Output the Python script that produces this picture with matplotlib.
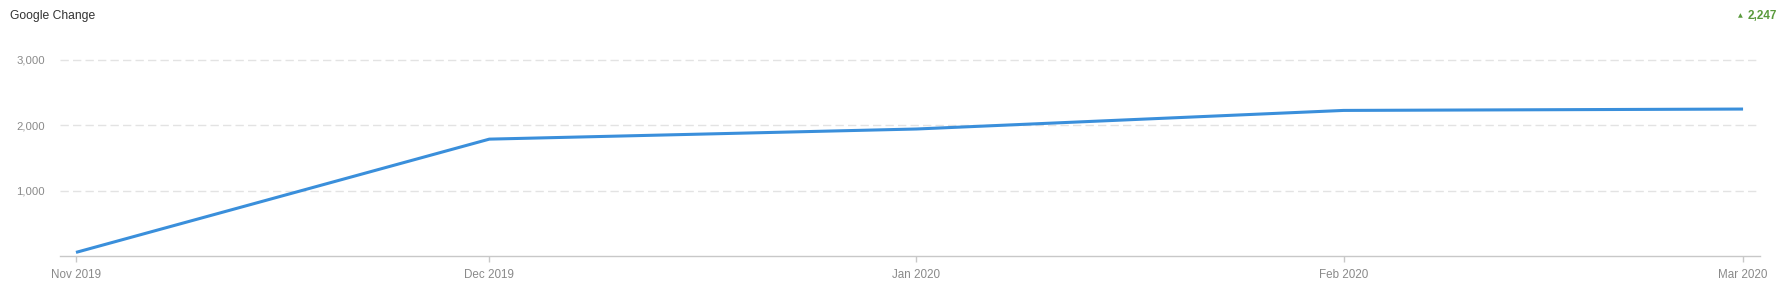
import matplotlib
matplotlib.use('Agg')
import matplotlib.pyplot as plt
from matplotlib.ticker import FuncFormatter
from datetime import datetime, timedelta

plt.rcParams['font.family'] = ['Liberation Sans', 'DejaVu Sans']

# data
months = ['2019-11-01', '2019-12-01', '2020-01-01', '2020-02-01', '2020-03-01']
month_labels = ['Nov 2019', 'Dec 2019', 'Jan 2020', 'Feb 2020', 'Mar 2020']
values = [55, 1787, 1942, 2226, 2247]
y_ticks = [1000, 2000, 3000]
change_text = '2,247'

dates = [datetime.strptime(m, '%Y-%m-%d') for m in months]

fig = plt.figure(figsize=(17.87, 3.0), dpi=100)
ax = fig.add_axes([60 / 1787, 1 - 256 / 300, 1700 / 1787, 206 / 300])

ax.plot(dates, values, color='#3a8fdb', linewidth=2.2, solid_capstyle='butt', zorder=3)

ax.set_xlim(dates[0] - timedelta(days=1.16), dates[-1] + timedelta(days=1.23))
ax.set_ylim(0, 3150)

ax.set_xticks(dates)
ax.set_xticklabels(month_labels)
ax.set_yticks(y_ticks)
ax.yaxis.set_major_formatter(FuncFormatter(lambda v, p: f'{int(v):,}'))

for s in ['top', 'right', 'left']:
    ax.spines[s].set_visible(False)
ax.spines['bottom'].set_color('#c8c8c8')
ax.spines['bottom'].set_linewidth(1)

ax.tick_params(axis='x', colors='#c8c8c8', length=4, width=1, pad=5,
               labelsize=8.4, labelcolor='#8a8a8a')
ax.tick_params(axis='y', length=0, pad=11, labelsize=8.2, labelcolor='#8a8a8a')
ax.grid(axis='y', color='#e3e3e3', linestyle=(0, (6, 3)), linewidth=1)
ax.set_axisbelow(True)

fig.text(10 / 1787, 1 - 16 / 300, 'Google Change', fontsize=8.7, color='#333333',
         ha='left', va='center')
fig.text(1777 / 1787, 1 - 16 / 300, change_text, fontsize=8.5, color='#5a9a3c',
         fontweight='bold', ha='right', va='center')
fig.text(1743 / 1787, 1 - 16 / 300, '\u25b2', fontsize=4.5, color='#5a9a3c',
         ha='right', va='center', family=['DejaVu Sans'])

fig.savefig('out.png', dpi=100)
plt.close(fig)
